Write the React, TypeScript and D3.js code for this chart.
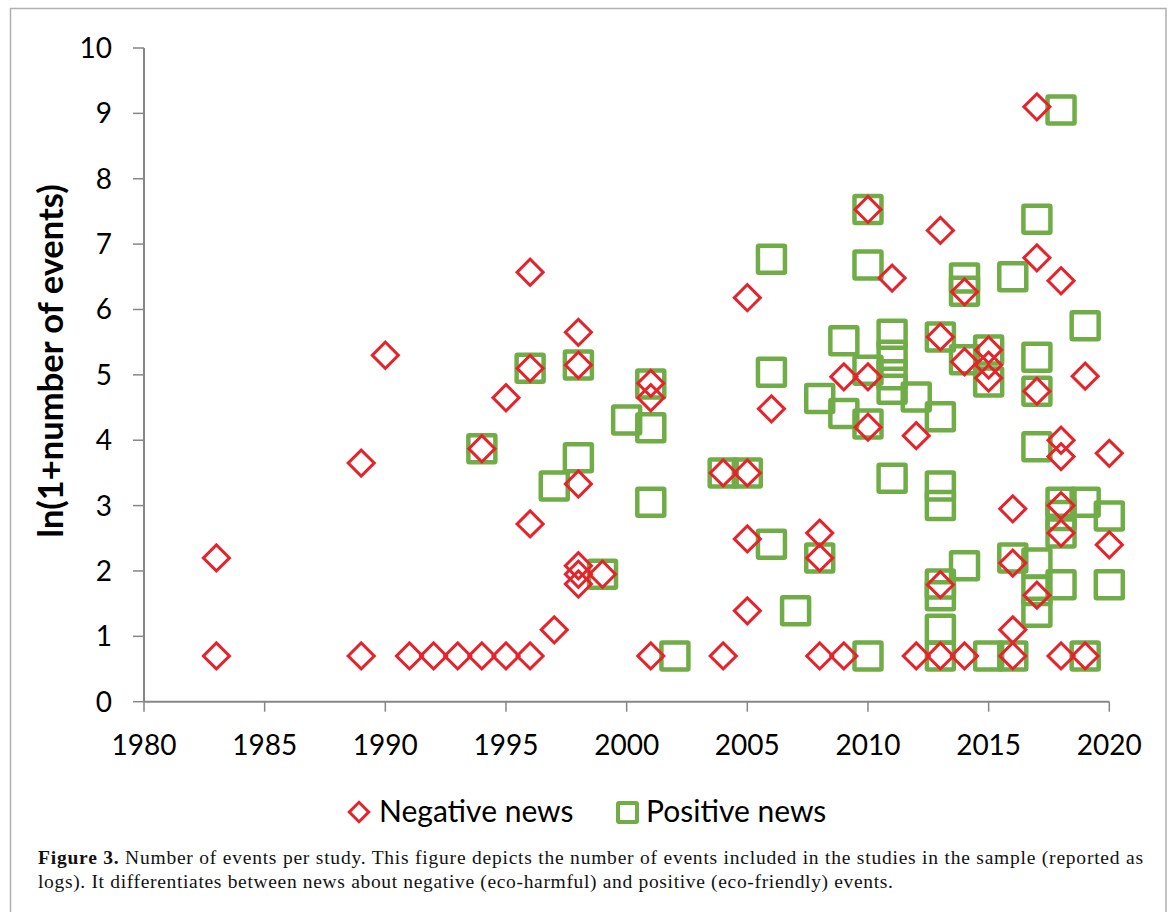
import React from "react";
import { scaleLinear, symbol, symbolSquare } from "d3";

// Negative news (eco-harmful): year and ln(1 + number of events)
const negYears = [
  1983, 1983, 1989, 1989, 1990, 1991, 1992, 1993, 1994, 1994, 1995, 1995,
  1996, 1996, 1996, 1996, 1997, 1998, 1998, 1998, 1998, 1998, 1998, 1999,
  2001, 2001, 2001, 2004, 2004, 2005, 2005, 2005, 2005, 2006, 2008, 2008,
  2008, 2009, 2009, 2010, 2010, 2010, 2011, 2012, 2012, 2013, 2013, 2013,
  2013, 2014, 2014, 2014, 2015, 2015, 2015, 2016, 2016, 2016, 2016, 2017,
  2017, 2017, 2017, 2018, 2018, 2018, 2018, 2018, 2018, 2019, 2019, 2020,
  2020,
];
const negValues = [
  2.2, 0.7, 3.65, 0.7, 5.3, 0.7, 0.7, 0.7, 3.87, 0.7, 4.65, 0.7,
  6.57, 5.1, 2.72, 0.7, 1.1, 5.65, 5.15, 3.33, 2.08, 1.95, 1.8, 1.95,
  4.87, 4.65, 0.7, 3.5, 0.7, 6.18, 3.5, 2.49, 1.39, 4.48, 2.58, 2.2,
  0.7, 4.97, 0.7, 7.53, 4.97, 4.2, 6.48, 4.07, 0.7, 7.21, 5.58, 1.79,
  0.7, 6.27, 5.2, 0.7, 5.38, 5.15, 4.95, 2.95, 2.12, 1.1, 0.7, 9.1,
  6.79, 4.75, 1.63, 6.44, 4.0, 3.75, 3.0, 2.58, 0.7, 4.98, 0.7, 3.8,
  2.4,
];

// Positive news (eco-friendly)
const posYears = [
  1994, 1996, 1997, 1998, 1998, 1999, 2000, 2001, 2001, 2001, 2002, 2004,
  2005, 2006, 2006, 2006, 2007, 2008, 2008, 2009, 2009, 2010, 2010, 2010,
  2010, 2010, 2011, 2011, 2011, 2011, 2011, 2012, 2013, 2013, 2013, 2013,
  2013, 2013, 2013, 2013, 2014, 2014, 2014, 2014, 2015, 2015, 2015, 2016,
  2016, 2016, 2017, 2017, 2017, 2017, 2017, 2017, 2017, 2018, 2018, 2018,
  2018, 2018, 2019, 2019, 2019, 2020, 2020,
];
const posValues = [
  3.87, 5.1, 3.3, 5.15, 3.73, 1.95, 4.31, 4.86, 4.19, 3.05, 0.7, 3.5,
  3.5, 6.77, 5.04, 2.41, 1.39, 4.64, 2.2, 5.52, 4.41, 7.53, 6.68, 5.07,
  4.25, 0.7, 5.62, 5.3, 5.0, 4.78, 3.42, 4.66, 5.58, 4.36, 3.3, 3.0,
  1.8, 1.62, 1.11, 0.7, 6.48, 6.28, 5.23, 2.08, 5.38, 4.89, 0.7, 6.5,
  2.2, 0.7, 7.38, 5.27, 4.75, 3.9, 2.12, 1.7, 1.37, 9.05, 3.05, 2.85,
  2.58, 1.79, 5.75, 3.05, 0.7, 2.84, 1.79,
];

const xTicks = [1980, 1985, 1990, 1995, 2000, 2005, 2010, 2015, 2020];
const yTicks = [0, 1, 2, 3, 4, 5, 6, 7, 8, 9, 10];

const RED = "#E8222B";
const GREEN = "#70AD47";
const AXIS = "#868686";
const FONT = "Lato, 'Open Sans', sans-serif";
const SERIF = "'Liberation Serif', 'DejaVu Serif', serif";

export default function App() {
  const width = 1173;
  const height = 912;

  const x = scaleLinear().domain([1980, 2020]).range([144, 1109.3]);
  const y = scaleLinear().domain([0, 10]).range([701.7, 48]);

  // diamonds are squares turned by 45 degrees
  const diamond = symbol().type(symbolSquare).size(340)() ?? "";
  const legendDiamond = symbol().type(symbolSquare).size(190)() ?? "";
  const sq = 27; // square marker side

  return (
    <svg
      width={width}
      height={height}
      style={{ position: "absolute", left: 0, top: 0, background: "#fff" }}
    >
      {/* frame around the figure */}
      <rect x={10.5} y={8.5} width={1155.5} height={930} fill="none" stroke="#b0b0b0" strokeWidth={1.5} />

      {/* axes */}
      <line x1={x(1980)} x2={x(2020)} y1={y(0)} y2={y(0)} stroke={AXIS} strokeWidth={2} />
      <line x1={x(1980)} x2={x(1980)} y1={y(0)} y2={y(10)} stroke={AXIS} strokeWidth={2} />
      {yTicks.map((t) => (
        <g key={`y${t}`}>
          <line x1={x(1980) - 11} x2={x(1980)} y1={y(t)} y2={y(t)} stroke={AXIS} strokeWidth={1.5} />
          <text x={112} y={y(t) + 10} textAnchor="end" fontFamily={FONT} fontSize={28} fill="#000">
            {t}
          </text>
        </g>
      ))}
      {xTicks.map((t) => (
        <g key={`x${t}`}>
          <line x1={x(t)} x2={x(t)} y1={y(0)} y2={y(0) + 10} stroke={AXIS} strokeWidth={1.5} />
          <text x={x(t)} y={755} textAnchor="middle" fontFamily={FONT} fontSize={28} fill="#000">
            {t}
          </text>
        </g>
      ))}

      {/* y axis title */}
      <text
        transform="translate(63, 361) rotate(-90)"
        textAnchor="middle"
        fontFamily={FONT}
        fontWeight="bold"
        fontSize={34.5}
        fill="#000"
      >
        ln(1+number of events)
      </text>

      {/* positive news squares */}
      {posYears.map((yr, i) => (
        <rect
          key={`p${i}`}
          x={x(yr) - sq / 2}
          y={y(posValues[i]) - sq / 2}
          width={sq}
          height={sq}
          rx={1}
          fill="none"
          stroke={GREEN}
          strokeWidth={4.5}
        />
      ))}

      {/* negative news diamonds */}
      {negYears.map((yr, i) => (
        <path
          key={`n${i}`}
          d={diamond}
          transform={`translate(${x(yr)},${y(negValues[i])}) rotate(45)`}
          fill="none"
          stroke={RED}
          strokeWidth={3}
        />
      ))}

      {/* legend */}
      <path d={legendDiamond} transform="translate(359,812) rotate(45)" fill="none" stroke={RED} strokeWidth={3} />
      <text x={379} y={822} fontFamily={FONT} fontSize={30} fill="#000">
        Negative news
      </text>
      <rect x={618} y={803} width={19} height={19} rx={1} fill="none" stroke={GREEN} strokeWidth={4} />
      <text x={646} y={822} fontFamily={FONT} fontSize={30} fill="#000">
        Positive news
      </text>

      {/* caption */}
      <text x={38} y={864} fontFamily={SERIF} fontSize={19.5} fill="#111" textLength={1105} lengthAdjust="spacing">
        <tspan fontWeight="bold">Figure 3.</tspan> Number of events per study. This figure depicts the number of events
        included in the studies in the sample (reported as
      </text>
      <text x={38} y={888} fontFamily={SERIF} fontSize={19.5} fill="#111" textLength={855} lengthAdjust="spacing">
        logs). It differentiates between news about negative (eco-harmful) and positive (eco-friendly) events.
      </text>
    </svg>
  );
}
